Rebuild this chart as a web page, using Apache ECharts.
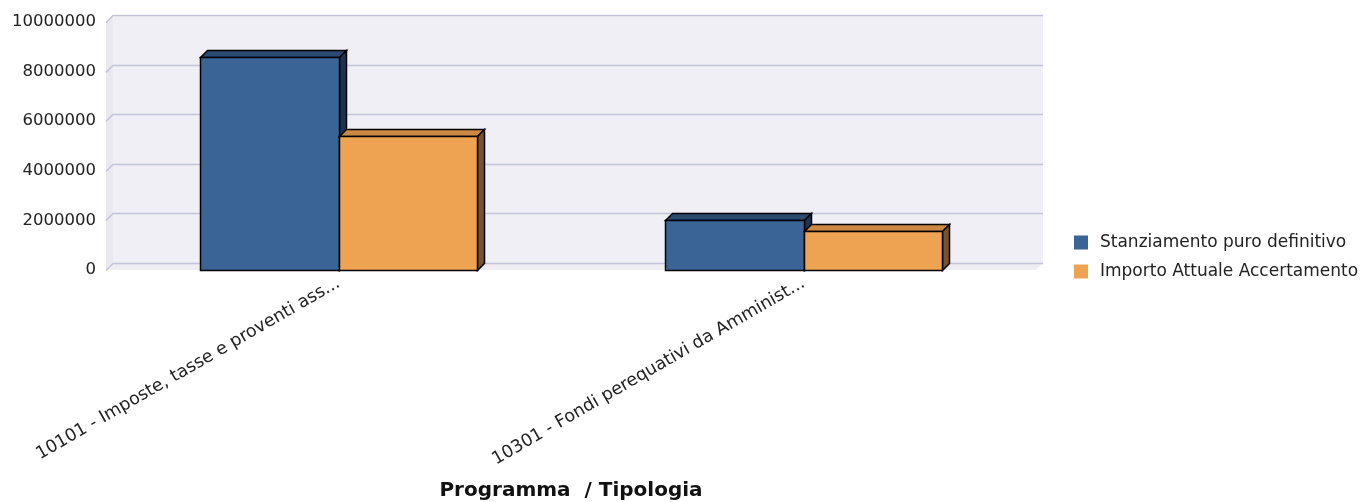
<!DOCTYPE html>
<html>
<head>
<meta charset="utf-8">
<script src="https://cdn.jsdelivr.net/npm/echarts@6/dist/echarts.min.js"></script>
<style>
html,body{margin:0;padding:0;background:#fff;}
#chart{width:1360px;height:502px;}
</style>
</head>
<body>
<div id="chart"></div>
<script>
// ---- data ----
const categories = ['10101 - Imposte, tasse e proventi ass...', '10301 - Fondi perequativi da Amminist...'];
const seriesNames = ['Stanziamento puro definitivo', 'Importo Attuale Accertamento'];
const stanziamento = [8600000, 2020000];
const accertamento = [5420000, 1560000];
const yTicks = [0, 2000000, 4000000, 6000000, 8000000, 10000000];
const xAxisTitle = 'Programma  / Tipologia';

// ---- styles ----
const FONT = 'DejaVu Sans';
const D = 7; // 3D depth offset
const palette = [
  { front: '#396495', top: '#2b4a70', side: '#1e3352' },
  { front: '#eea353', top: '#cc8944', side: '#7a5230' }
];

const chart = echarts.init(document.getElementById('chart'), null, { renderer: 'canvas' });

function wallRender(params, api) {
  const cs = params.coordSys;
  const left = cs.x, right = cs.x + cs.width, top = cs.y, bottom = cs.y + cs.height;
  const children = [];
  if (params.dataIndex === 0) {
    children.push({ type: 'polygon', shape: { points: [[left + D, top - D], [right + D, top - D], [right + D, bottom - D], [left + D, bottom - D]] }, style: { fill: '#efeff5' }, silent: true });
    children.push({ type: 'polygon', shape: { points: [[left, top], [left + D, top - D], [left + D, bottom - D], [left, bottom]] }, style: { fill: '#e9e9ef' }, silent: true });
    children.push({ type: 'polygon', shape: { points: [[left, bottom], [left + D, bottom - D], [right + D, bottom - D], [right, bottom]] }, style: { fill: '#ededf3' }, silent: true });
  }
  const y = Math.round(api.coord([0, api.value(1)])[1]) + 0.5;
  children.push({ type: 'polyline', shape: { points: [[left, y], [left + D, y - D], [right + D, y - D]] }, style: { stroke: '#c4c4d8', lineWidth: 1.5, fill: null }, silent: true });
  return { type: 'group', children };
}

function barRender(si) {
  return function (params, api) {
    const cat = api.value(0), val = api.value(1);
    const base = api.coord([cat, 0]);
    const topPt = api.coord([cat, val]);
    const band = api.size([1, 0])[0];
    const bw = band * 0.2968;
    const cx = base[0];
    const x0 = Math.round(si === 0 ? cx - bw : cx) + 0.5;
    const x1 = Math.round(si === 0 ? cx : cx + bw) + 0.5;
    const yb = Math.round(base[1]) + 0.5;
    const yt = Math.round(topPt[1]) + 0.5;
    const c = palette[si];
    const st = { stroke: '#000', lineWidth: 1.5, lineJoin: 'miter' };
    return {
      type: 'group',
      children: [
        { type: 'polygon', shape: { points: [[x0, yt], [x0 + D, yt - D], [x1 + D, yt - D], [x1, yt]] }, style: Object.assign({ fill: c.top }, st) },
        { type: 'polygon', shape: { points: [[x1, yt], [x1 + D, yt - D], [x1 + D, yb - D], [x1, yb]] }, style: Object.assign({ fill: c.side }, st) },
        { type: 'rect', shape: { x: x0, y: yt, width: x1 - x0, height: yb - yt }, style: Object.assign({ fill: c.front }, st) }
      ]
    };
  };
}

const option = {
  animation: false,
  backgroundColor: '#ffffff',
  textStyle: { fontFamily: FONT },
  grid: { left: 106, top: 22, width: 930, height: 250, containLabel: false },
  legend: {
    orient: 'vertical',
    left: 1069,
    top: 229,
    itemWidth: 14,
    itemHeight: 14,
    itemGap: 12,
    icon: 'rect',
    data: seriesNames,
    textStyle: { fontFamily: FONT, fontSize: 17, color: '#222', padding: [0, 0, 0, 7] }
  },
  xAxis: {
    type: 'category',
    data: categories,
    axisLine: { show: false },
    axisTick: { show: false },
    splitLine: { show: false },
    axisLabel: { rotate: 30, fontFamily: FONT, fontSize: 17.5, color: '#222', margin: 12, interval: 0 },
    name: xAxisTitle,
    nameLocation: 'middle',
    nameGap: 211,
    nameTextStyle: { fontFamily: FONT, fontSize: 20, fontWeight: 'bold', color: '#111', verticalAlign: 'top' }
  },
  yAxis: {
    type: 'value',
    min: yTicks[0],
    max: yTicks[yTicks.length - 1],
    interval: yTicks[1] - yTicks[0],
    axisLine: { show: false },
    axisTick: { show: false },
    splitLine: { show: false },
    axisLabel: { fontFamily: FONT, fontSize: 16.5, color: '#222', margin: 10, formatter: v => String(v) }
  },
  series: [
    {
      type: 'custom',
      name: '__walls',
      renderItem: wallRender,
      data: yTicks.map(v => [0, v]),
      encode: { x: 0, y: 1 },
      z: 0,
      silent: true,
      legendHoverLink: false
    },
    {
      type: 'custom',
      name: seriesNames[0],
      renderItem: barRender(0),
      itemStyle: { color: palette[0].front },
      data: stanziamento.map((v, i) => [i, v]),
      encode: { x: 0, y: 1 },
      z: 2
    },
    {
      type: 'custom',
      name: seriesNames[1],
      renderItem: barRender(1),
      itemStyle: { color: palette[1].front },
      data: accertamento.map((v, i) => [i, v]),
      encode: { x: 0, y: 1 },
      z: 3
    }
  ]
};
chart.setOption(option);
</script>
</body>
</html>
